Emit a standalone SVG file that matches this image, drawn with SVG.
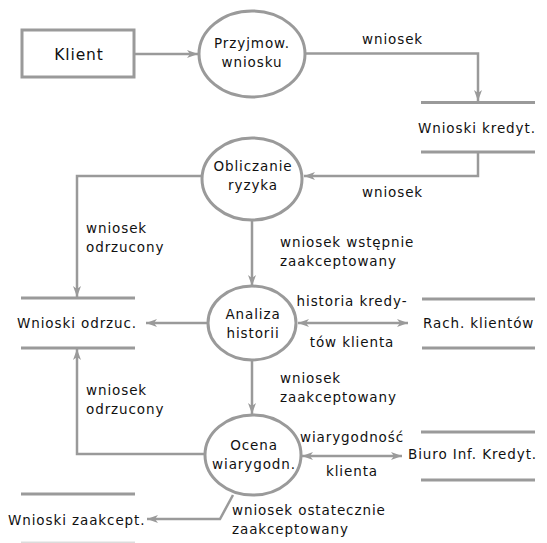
<svg xmlns="http://www.w3.org/2000/svg" width="547" height="543" viewBox="0 0 547 543">
  <defs>
    <style>
      .shape { fill: none; stroke: #9a9a9a; stroke-width: 3; }
      .store { stroke: #9a9a9a; stroke-width: 3; }
      .flow { fill: none; stroke: #9a9a9a; stroke-width: 2.5; }
      text { font-family: "DejaVu Sans", "Liberation Sans", sans-serif; font-size: 13.5px; letter-spacing: 0.9px; fill: #111; }
      .mid { text-anchor: middle; }
      .big { font-size: 15.5px; }
    </style>
    <marker id="arrow" viewBox="0 0 12 10" refX="11" refY="5" markerWidth="12" markerHeight="10" markerUnits="userSpaceOnUse" orient="auto-start-reverse">
      <path d="M0,1 L11,5 L0,9 L3,5 Z" fill="#9a9a9a"/>
    </marker>
  </defs>

  <rect width="547" height="543" fill="#fff"/>

  <!-- external entity -->
  <g id="klient">
    <rect class="shape" x="22" y="30" width="112" height="47"/>
    <text class="mid big" x="79" y="60">Klient</text>
  </g>

  <!-- processes -->
  <g id="przyjmowanie">
    <ellipse class="shape" cx="252" cy="54" rx="53" ry="43"/>
    <text class="mid" x="252" y="48">Przyjmow.</text>
    <text class="mid" x="252" y="67">wniosku</text>
  </g>
  <g id="obliczanie">
    <ellipse class="shape" cx="252" cy="179" rx="50" ry="41"/>
    <text class="mid" x="253" y="171">Obliczanie</text>
    <text class="mid" x="253" y="190">ryzyka</text>
  </g>
  <g id="analiza">
    <ellipse class="shape" cx="252" cy="323" rx="44" ry="37"/>
    <text class="mid" x="253" y="319">Analiza</text>
    <text class="mid" x="253" y="338">historii</text>
  </g>
  <g id="ocena">
    <ellipse class="shape" cx="253" cy="455" rx="48" ry="40"/>
    <text class="mid" x="254" y="450">Ocena</text>
    <text class="mid" x="254" y="469">wiarygodn.</text>
  </g>

  <!-- data stores -->
  <g id="wnioski-kredyt">
    <line class="store" x1="421" y1="102.5" x2="535" y2="102.5"/>
    <line class="store" x1="421" y1="152" x2="535" y2="152"/>
    <text x="418" y="133">Wnioski kredyt.</text>
  </g>
  <g id="wnioski-odrzuc">
    <line class="store" x1="21" y1="298" x2="135" y2="298"/>
    <line class="store" x1="21" y1="348" x2="135" y2="348"/>
    <text x="17" y="328">Wnioski odrzuc.</text>
  </g>
  <g id="rach-klientow">
    <line class="store" x1="422" y1="299" x2="535" y2="299"/>
    <line class="store" x1="422" y1="348" x2="535" y2="348"/>
    <text x="423" y="328">Rach. klientów</text>
  </g>
  <g id="biuro">
    <line class="store" x1="421" y1="432" x2="535" y2="432"/>
    <line class="store" x1="421" y1="480" x2="535" y2="480"/>
    <text x="408" y="459">Biuro Inf. Kredyt.</text>
  </g>
  <g id="wnioski-zaakcept">
    <line class="store" x1="21" y1="494" x2="135" y2="494"/>
    <line class="store" x1="21" y1="543" x2="135" y2="543" stroke-opacity="0.35"/>
    <text x="8" y="525">Wnioski zaakcept.</text>
  </g>

  <!-- data flows -->
  <g id="connectors">
    <line class="flow" x1="134" y1="54" x2="198" y2="54" marker-end="url(#arrow)"/>
    <polyline class="flow" points="305,53.5 478,53.5 478,101" marker-end="url(#arrow)"/>
    <polyline class="flow" points="478,153 478,176 304,176" marker-end="url(#arrow)"/>
    <polyline class="flow" points="202,176 77,176 77,297" marker-end="url(#arrow)"/>
    <line class="flow" x1="252" y1="220" x2="252" y2="286" marker-end="url(#arrow)"/>
    <line class="flow" x1="208" y1="323" x2="146" y2="323" marker-end="url(#arrow)"/>
    <line class="flow" x1="298" y1="323" x2="408" y2="323" marker-start="url(#arrow)" marker-end="url(#arrow)"/>
    <line class="flow" x1="252" y1="360" x2="252" y2="414" marker-end="url(#arrow)"/>
    <polyline class="flow" points="205,454 77,454 77,349" marker-end="url(#arrow)"/>
    <line class="flow" x1="302" y1="456" x2="402" y2="456" marker-start="url(#arrow)" marker-end="url(#arrow)"/>
    <polyline class="flow" points="233,495 220,519 147,519" marker-end="url(#arrow)"/>
  </g>

  <!-- flow labels -->
  <g id="labels">
    <text x="362" y="44">wniosek</text>
    <text x="362" y="197">wniosek</text>
    <text x="86" y="233">wniosek</text>
    <text x="86" y="252">odrzucony</text>
    <text x="280" y="247">wniosek wstępnie</text>
    <text x="280" y="266">zaakceptowany</text>
    <text class="mid" x="352" y="306">historia kredy-</text>
    <text class="mid" x="352" y="347">tów klienta</text>
    <text x="280" y="383">wniosek</text>
    <text x="280" y="402">zaakceptowany</text>
    <text x="86" y="395">wniosek</text>
    <text x="86" y="414">odrzucony</text>
    <text class="mid" x="352" y="442">wiarygodność</text>
    <text class="mid" x="352" y="476">klienta</text>
    <text x="232" y="515">wniosek ostatecznie</text>
    <text x="232" y="534">zaakceptowany</text>
  </g>
</svg>
